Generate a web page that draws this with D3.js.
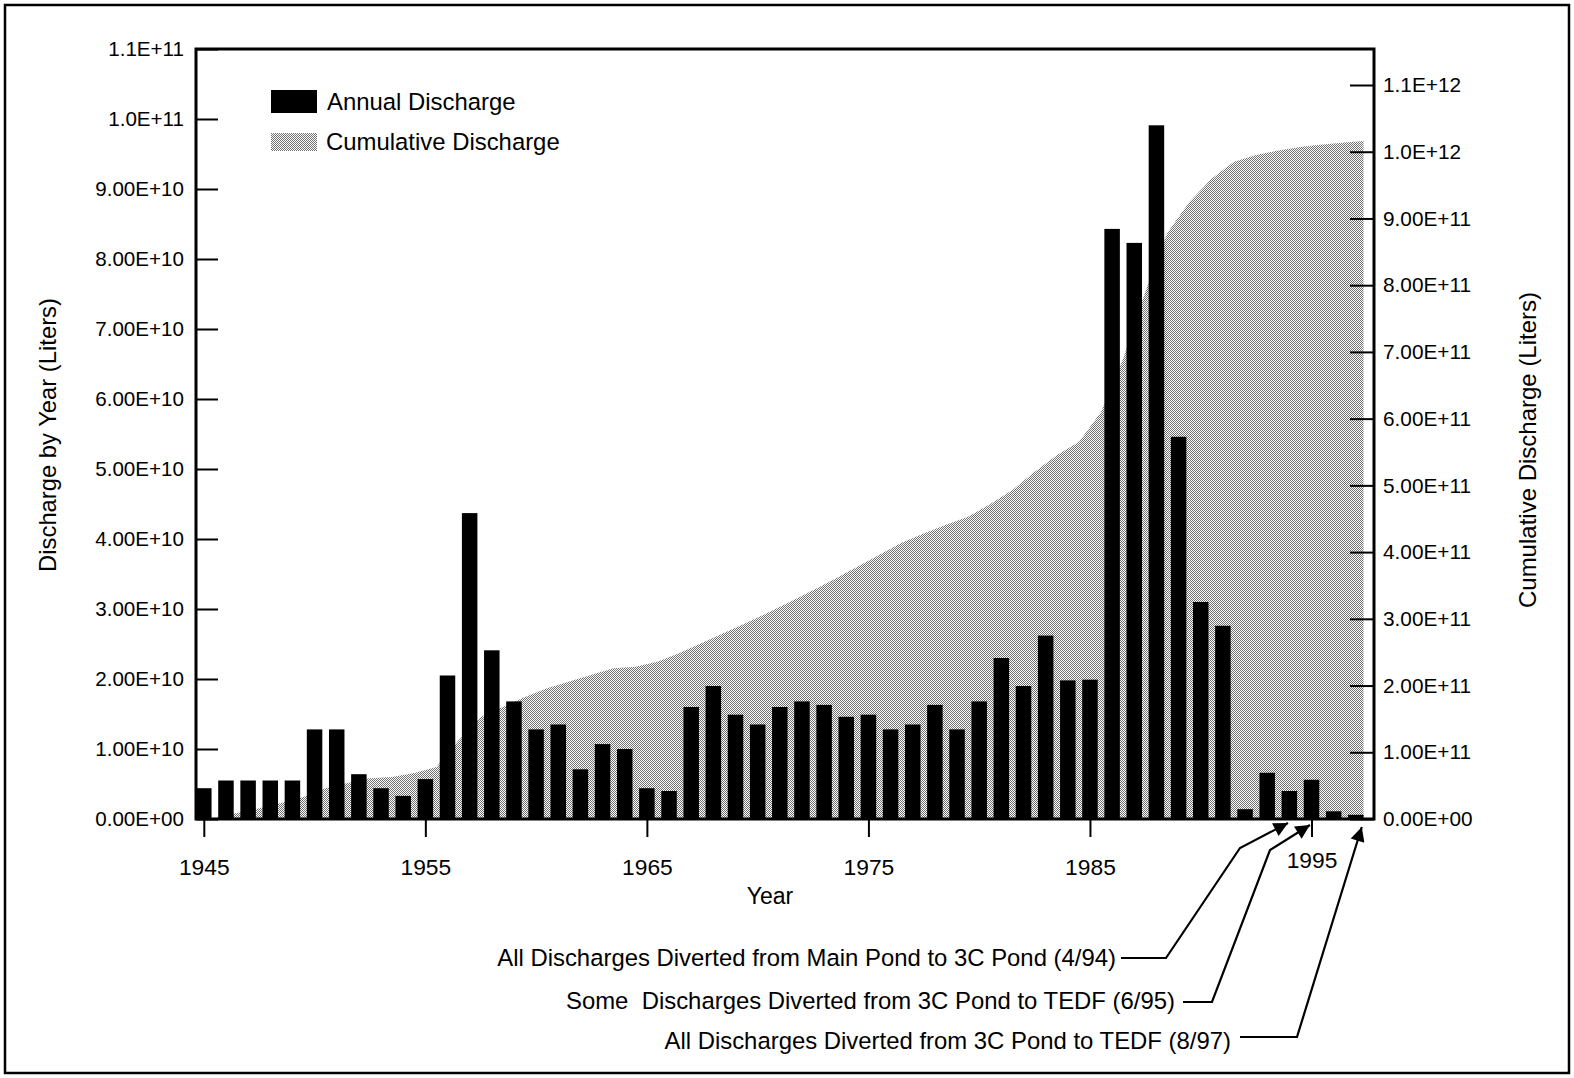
<!DOCTYPE html>
<html>
<head>
<meta charset="utf-8">
<script src="https://cdn.jsdelivr.net/npm/d3@7"></script>
<style>
  body { margin: 0; background: #fff; }
  svg { display: block; }
  text { font-family: "Liberation Sans", Arial, Helvetica, sans-serif; fill: #000; }
</style>
</head>
<body>
<svg id="chart" width="1574" height="1078"></svg>
<script>
// ---------------- DATA ----------------
const years = [1945,1946,1947,1948,1949,1950,1951,1952,1953,1954,
               1955,1956,1957,1958,1959,1960,1961,1962,1963,1964,
               1965,1966,1967,1968,1969,1970,1971,1972,1973,1974,
               1975,1976,1977,1978,1979,1980,1981,1982,1983,1984,
               1985,1986,1987,1988,1989,1990,1991,1992,1993,1994,
               1995,1996,1997];

// Annual discharge (liters)
const annualDischarge = [4.4e9,5.5e9,5.5e9,5.5e9,5.5e9,1.28e10,1.28e10,6.4e9,4.4e9,3.3e9,
                         5.7e9,2.05e10,4.37e10,2.41e10,1.68e10,1.28e10,1.35e10,7.1e9,1.07e10,1.0e10,
                         4.4e9,4.0e9,1.6e10,1.9e10,1.49e10,1.35e10,1.6e10,1.68e10,1.63e10,1.46e10,
                         1.49e10,1.28e10,1.35e10,1.63e10,1.28e10,1.68e10,2.3e10,1.9e10,2.62e10,1.98e10,
                         1.99e10,8.43e10,8.23e10,9.91e10,5.46e10,3.1e10,2.76e10,1.4e9,6.6e9,4.0e9,
                         5.6e9,1.1e9,6e8];

// Cumulative discharge at the end of each year (liters)
const cumulativeDischarge = [1.5e9,9e9,1.6e10,2.4e10,3.3e10,4.6e10,5.4e10,6.1e10,6.3e10,6.9e10,
                             7.8e10,1.18e11,1.53e11,1.68e11,1.83e11,1.96e11,2.06e11,2.16e11,2.26e11,2.28e11,
                             2.36e11,2.49e11,2.64e11,2.79e11,2.94e11,3.10e11,3.26e11,3.43e11,3.60e11,3.78e11,
                             3.96e11,4.14e11,4.28e11,4.41e11,4.53e11,4.72e11,4.93e11,5.20e11,5.45e11,5.65e11,
                             6.1e11,6.9e11,7.9e11,8.79e11,9.25e11,9.6e11,9.85e11,9.95e11,1.002e12,1.007e12,
                             1.011e12,1.014e12,1.016e12];

const xTickYears  = [1945,1955,1965,1975,1985,1995];
const xTickLabels = ["1945","1955","1965","1975","1985","1995"];

const leftTickValues = [0,1e10,2e10,3e10,4e10,5e10,6e10,7e10,8e10,9e10,1e11,1.1e11];
const leftTickLabels = ["0.00E+00","1.00E+10","2.00E+10","3.00E+10","4.00E+10","5.00E+10",
                        "6.00E+10","7.00E+10","8.00E+10","9.00E+10","1.0E+11","1.1E+11"];

const rightTickValues = [0,1e11,2e11,3e11,4e11,5e11,6e11,7e11,8e11,9e11,1e12,1.1e12];
const rightTickLabels = ["0.00E+00","1.00E+11","2.00E+11","3.00E+11","4.00E+11","5.00E+11",
                         "6.00E+11","7.00E+11","8.00E+11","9.00E+11","1.0E+12","1.1E+12"];

const seriesNames = ["Annual Discharge","Cumulative Discharge"];

const annotationTexts = ["All Discharges Diverted from Main Pond to 3C Pond (4/94)",
                         "Some  Discharges Diverted from 3C Pond to TEDF (6/95)",
                         "All Discharges Diverted from 3C Pond to TEDF (8/97)"];
const annotationTipYears = [1993.94, 1994.93, 1997.27];

// ---------------- LAYOUT ----------------
const svg = d3.select("#chart");
const W = 1574, H = 1078;
const plot = { left: 196, right: 1374, top: 49, bottom: 819 };

const x = d3.scaleLinear().domain([1945, 1995]).range([203.8, 1311.5]);
const yL = d3.scaleLinear().domain([0, 1.1e11]).range([plot.bottom, plot.top]);
const yR = d3.scaleLinear().domain([0, 1.1e12]).range([plot.bottom, 85]);
const barW = 15.5;

// pattern
const defs = svg.append("defs");
const pat = defs.append("pattern").attr("id","stipple")
  .attr("patternUnits","userSpaceOnUse").attr("width",2).attr("height",2);
pat.append("rect").attr("width",2).attr("height",2).attr("fill","#fff");
pat.append("rect").attr("x",0).attr("y",0).attr("width",1).attr("height",1).attr("fill","#707070");
pat.append("rect").attr("x",1).attr("y",1).attr("width",1).attr("height",1).attr("fill","#707070");

defs.append("marker").attr("id","arrow").attr("viewBox","0 0 10 10")
  .attr("refX",10).attr("refY",5).attr("markerWidth",8).attr("markerHeight",6.5)
  .attr("markerUnits","strokeWidth").attr("orient","auto")
  .append("path").attr("d","M0,0 L10,5 L0,10 Z").attr("fill","#000");

// outer border
svg.append("rect").attr("x",5).attr("y",5).attr("width",W-10).attr("height",H-10)
  .attr("fill","none").attr("stroke","#000").attr("stroke-width",2.5);

// cumulative area
const areaPts = [{px: plot.left, v: 0}];
years.forEach((yr, i) => {
  const px = i < years.length - 1 ? x(yr + 0.5) : x(yr) + barW / 2;
  areaPts.push({px, v: cumulativeDischarge[i]});
});
areaPts.push({px: areaPts[areaPts.length-1].px, v: 0});

svg.append("path").datum(areaPts)
  .attr("fill","url(#stipple)")
  .attr("d", d3.area().x(d => d.px).y0(yR(0)).y1(d => yR(d.v)));

// bars
svg.append("g").selectAll("rect").data(years).join("rect")
  .attr("x", d => x(d) - barW/2)
  .attr("width", barW)
  .attr("y", (d,i) => yL(annualDischarge[i]))
  .attr("height", (d,i) => yL(0) - yL(annualDischarge[i]))
  .attr("fill","#000");

// left axis
const leftAxis = d3.axisLeft(yL).tickValues(leftTickValues)
  .tickFormat((d,i) => leftTickLabels[i]).tickSizeInner(-22).tickSizeOuter(0).tickPadding(12);
const gL = svg.append("g").attr("transform",`translate(${plot.left},0)`).call(leftAxis);
gL.select(".domain").remove();
gL.selectAll("line").attr("stroke","#000").attr("stroke-width",2);
gL.selectAll("text").style("font-size","20.6px");

// right axis
const rightAxis = d3.axisRight(yR).tickValues(rightTickValues)
  .tickFormat((d,i) => rightTickLabels[i]).tickSizeInner(-24).tickSizeOuter(0).tickPadding(9);
const gR = svg.append("g").attr("transform",`translate(${plot.right},0)`).call(rightAxis);
gR.select(".domain").remove();
gR.selectAll("line").attr("stroke","#000").attr("stroke-width",2);
gR.selectAll("text").style("font-size","20.8px");

// bottom axis
const bottomAxis = d3.axisBottom(x).tickValues(xTickYears)
  .tickFormat((d,i) => xTickLabels[i]).tickSizeInner(18).tickSizeOuter(0).tickPadding(22);
const gB = svg.append("g").attr("transform",`translate(0,${plot.bottom})`).call(bottomAxis);
gB.select(".domain").remove();
gB.selectAll("line").attr("stroke","#000").attr("stroke-width",2);
gB.selectAll("text").style("font-size","22.8px")
  .attr("y", d => d === 1995 ? 33 : 40);

// frame
svg.append("rect").attr("x",plot.left).attr("y",plot.top)
  .attr("width",plot.right-plot.left).attr("height",plot.bottom-plot.top)
  .attr("fill","none").attr("stroke","#000").attr("stroke-width",3);

// axis titles
svg.append("text").attr("transform","translate(48,435) rotate(-90)")
  .attr("text-anchor","middle").attr("dy","0.35em").style("font-size","23.8px")
  .text("Discharge by Year (Liters)");
svg.append("text").attr("transform","translate(1528,450) rotate(-90)")
  .attr("text-anchor","middle").attr("dy","0.35em").style("font-size","24px")
  .text("Cumulative Discharge (Liters)");
svg.append("text").attr("x",770).attr("y",896)
  .attr("text-anchor","middle").attr("dy","0.35em").style("font-size","23px")
  .text("Year");

// legend
const lg = svg.append("g");
lg.append("rect").attr("x",271).attr("y",90).attr("width",46).attr("height",23).attr("fill","#000");
lg.append("text").attr("x",327).attr("y",110).style("font-size","23.9px").text(seriesNames[0]);
lg.append("rect").attr("x",271).attr("y",133).attr("width",46).attr("height",18).attr("fill","url(#stipple)");
lg.append("text").attr("x",326).attr("y",149.5).style("font-size","23.9px").text(seriesNames[1]);

// annotations
const annTextPos = [{xe:1116, yc:958}, {xe:1175, yc:1001}, {xe:1231, yc:1041}];
const annPaths = [
  [[1121,958],[1166,958],[1240,848]],
  [[1183,1002],[1212,1002],[1270,850]],
  [[1240,1037],[1297,1037]]
];
const annTipY = [823, 825, 827];
annotationTexts.forEach((t,i) => {
  svg.append("text").attr("x",annTextPos[i].xe).attr("y",annTextPos[i].yc)
    .attr("text-anchor","end").attr("dy","0.35em").style("font-size","23.9px")
    .style("white-space","pre").attr("xml:space","preserve").text(t);
  const pts = annPaths[i].concat([[x(annotationTipYears[i]), annTipY[i]]]);
  svg.append("path").attr("d", d3.line()(pts)).attr("fill","none")
    .attr("stroke","#000").attr("stroke-width",2.2).attr("marker-end","url(#arrow)");
});
</script>
</body>
</html>
